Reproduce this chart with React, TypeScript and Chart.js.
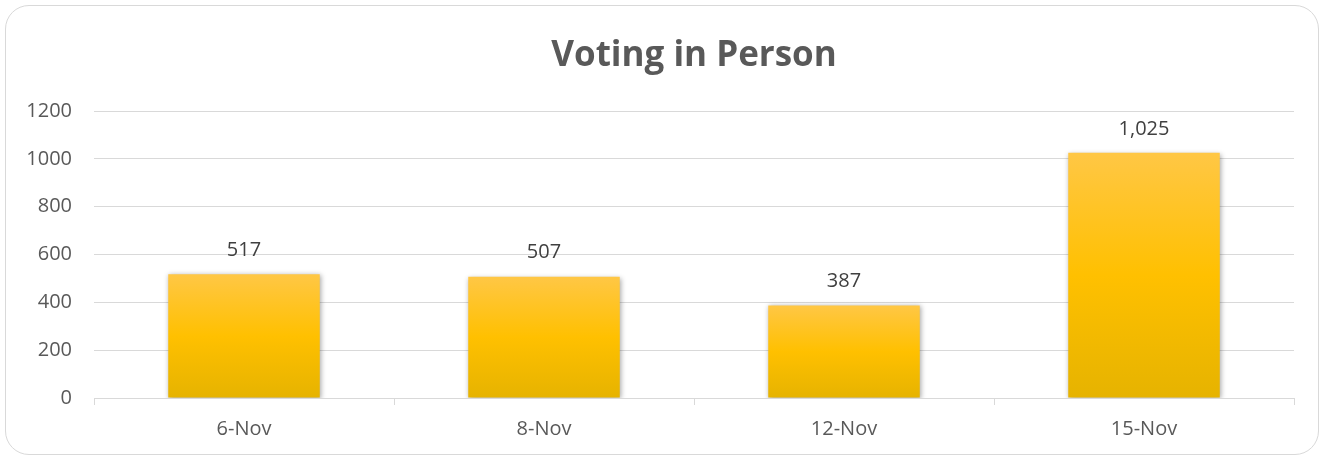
import React, { useEffect, useRef } from "react";
import { Chart, registerables } from "chart.js";

Chart.register(...registerables);

const categories = ["6-Nov", "8-Nov", "12-Nov", "15-Nov"];
const votes = [517, 507, 387, 1025];
const chartTitle = "Voting in Person";
const yMax = 1200;
const yStep = 200;

const FONT = "'Open Sans', 'Noto Sans', sans-serif";

export default function App() {
  const ref = useRef<HTMLCanvasElement | null>(null);

  useEffect(() => {
    document.body.style.margin = "0";
    const canvas = ref.current;
    if (!canvas) return;

    const barShadow = {
      id: "barShadow",
      beforeDatasetsDraw(chart: any) {
        const c = chart.ctx;
        c.save();
        c.shadowColor = "rgba(0,0,0,0.35)";
        c.shadowBlur = 5;
        c.shadowOffsetX = 1;
        c.shadowOffsetY = 1;
      },
      afterDatasetsDraw(chart: any) {
        chart.ctx.restore();
      },
    };

    const valueLabels = {
      id: "valueLabels",
      afterDatasetsDraw(chart: any) {
        const c = chart.ctx;
        const meta = chart.getDatasetMeta(0);
        c.save();
        c.font = `20px ${FONT}`;
        c.fillStyle = "#404040";
        c.textAlign = "center";
        c.textBaseline = "middle";
        meta.data.forEach((bar: any, i: number) => {
          c.fillText(votes[i].toLocaleString("en-US"), bar.x, bar.y - 24);
        });
        c.restore();
      },
    };

    // Title centred over the plot area (the built-in title only reserves space)
    const centredTitle = {
      id: "centredTitle",
      afterDraw(chart: any) {
        const box = chart.titleBlock;
        if (!box) return;
        const c = chart.ctx;
        const a = chart.chartArea;
        const top = box.top + 35;
        c.save();
        c.font = `bold 35px ${FONT}`;
        c.fillStyle = "#595959";
        c.textAlign = "center";
        c.textBaseline = "middle";
        c.fillText(chartTitle, (a.left + a.right) / 2, top + 21);
        c.restore();
      },
    };

    const chart = new Chart(canvas, {
      type: "bar",
      data: {
        labels: categories,
        datasets: [
          {
            data: votes,
            categoryPercentage: 1,
            barPercentage: 0.505,
            borderWidth: 0,
            backgroundColor: (ctx: any) => {
              const ch = ctx.chart;
              const area = ch.chartArea;
              if (!area || ctx.raw == null) return "#FFC000";
              const top = ch.scales.y.getPixelForValue(ctx.raw);
              const bottom = ch.scales.y.getPixelForValue(0);
              const g = ch.ctx.createLinearGradient(0, top, 0, bottom);
              g.addColorStop(0, "#FFC745");
              g.addColorStop(0.5, "#FFC000");
              g.addColorStop(1, "#E6B300");
              return g;
            },
          },
        ],
      },
      options: {
        responsive: false,
        animation: false,
        layout: { padding: { left: 0, right: 30, top: 0, bottom: 6 } },
        plugins: {
          legend: { display: false },
          tooltip: { enabled: false },
          title: {
            display: true,
            text: chartTitle,
            color: "rgba(0,0,0,0)",
            font: { family: FONT, size: 35, weight: "bold" },
            padding: { top: 35, bottom: 34 },
          },
        },
        scales: {
          x: {
            grid: {
              display: true,
              drawOnChartArea: false,
              drawTicks: true,
              tickLength: 7,
              color: "#d9d9d9",
              offset: true,
            },
            border: { display: true, color: "#d9d9d9", width: 1 },
            ticks: {
              color: "#595959",
              font: { family: FONT, size: 20 },
              padding: 12,
            },
          },
          y: {
            min: 0,
            max: yMax,
            afterFit: (scale: any) => {
              scale.width = 94;
            },
            grid: { color: "#d9d9d9", drawTicks: false, lineWidth: 1 },
            border: { display: false },
            ticks: {
              stepSize: yStep,
              color: "#595959",
              font: { family: FONT, size: 20 },
              padding: 22,
              callback: (v: any) => String(v),
            },
          },
        },
      },
      plugins: [barShadow, valueLabels, centredTitle],
    } as any);

    return () => chart.destroy();
  }, []);

  return (
    <div style={{ position: "relative", width: 1324, height: 459, background: "#fff" }}>
      <div
        style={{
          position: "absolute",
          left: 5,
          top: 5,
          width: 1314,
          height: 450,
          border: "1px solid #d9d9d9",
          borderRadius: 24,
          boxSizing: "border-box",
        }}
      />
      <canvas ref={ref} width={1324} height={459} style={{ position: "absolute", left: 0, top: 0, display: "block" }} />
    </div>
  );
}
